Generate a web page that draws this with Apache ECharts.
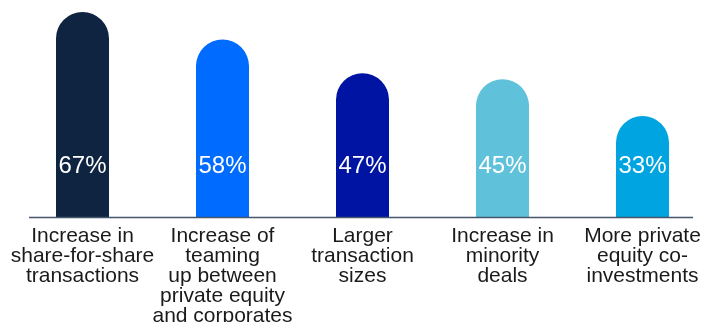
<!DOCTYPE html>
<html>
<head>
<meta charset="utf-8">
<script src="https://cdn.jsdelivr.net/npm/echarts@6/dist/echarts.min.js"></script>
<style>
  html, body { margin: 0; padding: 0; background: #ffffff; }
  #chart { width: 706px; height: 322px; }
</style>
</head>
<body>
<div id="chart"></div>
<script>
// Survey results: expected structural changes in deal-making
const categories = [
  'Increase in\nshare-for-share\ntransactions',
  'Increase of\nteaming\nup between\nprivate equity\nand corporates',
  'Larger\ntransaction\nsizes',
  'Increase in\nminority\ndeals',
  'More private\nequity co-\ninvestments'
];
const shares = [67, 58, 47, 45, 33];
const barColors = ['#0e2441', '#006bff', '#0014a3', '#5fc2da', '#00a4e0'];

const chart = echarts.init(document.getElementById('chart'), null, { renderer: 'canvas' });

chart.setOption({
  animation: false,
  backgroundColor: '#ffffff',
  textStyle: { fontFamily: 'Liberation Sans' },
  grid: {
    left: 12.5, right: -6.5, top: 2.8, bottom: 105,
    containLabel: false,
    outerBoundsMode: 'none'
  },
  xAxis: {
    type: 'category',
    data: categories,
    axisLine: { show: false },
    axisTick: { show: false },
    axisLabel: {
      interval: 0,
      margin: 9,
      color: '#1a1a1a',
      fontSize: 21,
      lineHeight: 20,
      fontFamily: 'Liberation Sans',
      align: 'center'
    }
  },
  yAxis: {
    type: 'value',
    min: 0,
    max: 70,
    show: false,
    splitLine: { show: false }
  },
  series: [{
    type: 'bar',
    barWidth: 53,
    data: shares.map((v, i) => ({
      value: v,
      itemStyle: { color: barColors[i], borderRadius: [26.5, 26.5, 0, 0] }
    })),
    label: {
      show: true,
      position: 'insideBottom',
      distance: 39,
      color: '#ffffff',
      fontSize: 24,
      fontFamily: 'Liberation Sans',
      formatter: p => p.value + '%'
    }
  }],
  graphic: [{
    type: 'line',
    z: 10,
    shape: { x1: 29, y1: 217.5, x2: 693, y2: 217.5 },
    style: { stroke: '#46566b', lineWidth: 1.5 }
  }]
});
</script>
</body>
</html>
